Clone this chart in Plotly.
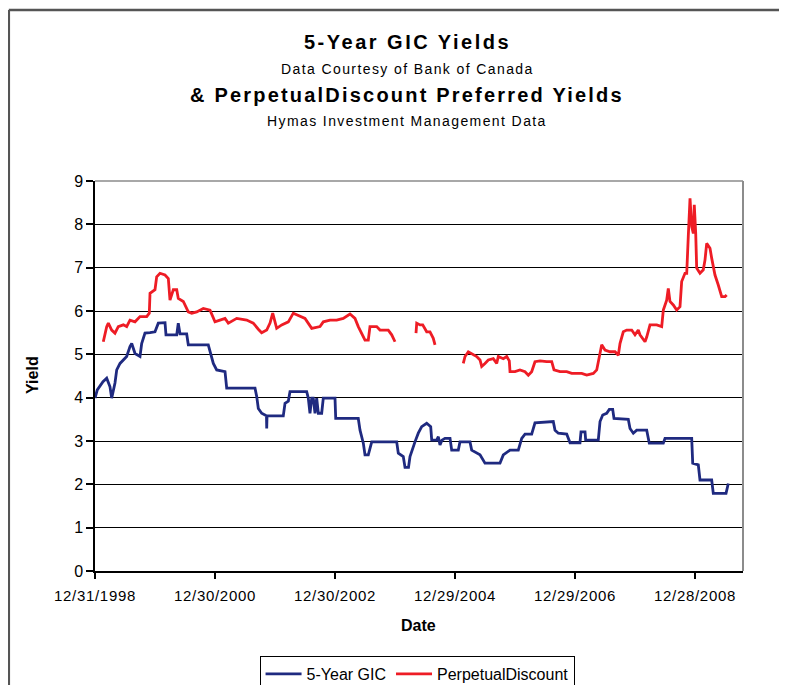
import pandas as pd
import plotly.graph_objects as go

# ---- data (dates as decimal years, values in %) ----
gic_years = [1999.000, 1999.038, 1999.133, 1999.195, 1999.250, 1999.278, 1999.333, 1999.362,
             1999.417, 1999.472, 1999.528, 1999.583, 1999.612, 1999.667, 1999.750, 1999.778,
             1999.833, 1999.917, 2000.000, 2000.055, 2000.167, 2000.183, 2000.362, 2000.388,
             2000.417, 2000.528, 2000.555, 2000.888, 2000.917, 2000.972, 2001.028, 2001.167,
             2001.195, 2001.667, 2001.695, 2001.722, 2001.778, 2001.858, 2001.862, 2001.867,
             2002.138, 2002.167, 2002.222, 2002.250, 2002.528, 2002.555, 2002.583, 2002.612,
             2002.638, 2002.667, 2002.695, 2002.722, 2002.778, 2002.805, 2003.000, 2003.012,
             2003.388, 2003.417, 2003.472, 2003.500, 2003.555, 2003.612, 2004.028, 2004.055,
             2004.138, 2004.167, 2004.225, 2004.250, 2004.333, 2004.388, 2004.445, 2004.528,
             2004.595, 2004.612, 2004.695, 2004.722, 2004.750, 2004.783, 2004.833, 2004.917,
             2004.945, 2005.055, 2005.083, 2005.250, 2005.278, 2005.333, 2005.417, 2005.500,
             2005.750, 2005.805, 2005.917, 2006.055, 2006.112, 2006.167, 2006.278, 2006.333,
             2006.638, 2006.667, 2006.722, 2006.862, 2006.917, 2007.083, 2007.100, 2007.167,
             2007.178, 2007.388, 2007.417, 2007.462, 2007.528, 2007.572, 2007.628, 2007.650,
             2007.888, 2007.917, 2007.972, 2008.028, 2008.195, 2008.238, 2008.472, 2008.500,
             2008.945, 2008.962, 2009.055, 2009.083, 2009.278, 2009.305, 2009.517, 2009.555]
gic_values = [3.99, 4.18, 4.37, 4.45, 4.25, 3.99, 4.34, 4.64,
              4.79, 4.87, 4.95, 5.18, 5.25, 5.02, 4.95, 5.25,
              5.49, 5.50, 5.52, 5.72, 5.73, 5.45, 5.45, 5.72,
              5.47, 5.47, 5.22, 5.22, 5.06, 4.79, 4.64, 4.60,
              4.22, 4.22, 4.03, 3.75, 3.64, 3.58, 3.29, 3.58,
              3.58, 3.87, 3.92, 4.14, 4.14, 3.99, 3.64, 3.99,
              3.99, 3.64, 3.99, 3.64, 3.64, 3.99, 3.99, 3.52,
              3.52, 3.25, 2.95, 2.68, 2.68, 2.98, 2.98, 2.72,
              2.64, 2.39, 2.39, 2.64, 2.98, 3.18, 3.33, 3.41,
              3.33, 3.02, 3.02, 3.10, 2.91, 3.02, 3.06, 3.06,
              2.79, 2.79, 2.98, 2.98, 2.79, 2.75, 2.68, 2.49,
              2.49, 2.68, 2.79, 2.79, 3.06, 3.16, 3.16, 3.42,
              3.45, 3.25, 3.18, 3.16, 2.96, 2.96, 3.21, 3.21,
              3.02, 3.02, 3.45, 3.60, 3.64, 3.73, 3.73, 3.52,
              3.50, 3.29, 3.18, 3.25, 3.25, 2.95, 2.95, 3.06,
              3.06, 2.49, 2.45, 2.10, 2.10, 1.79, 1.79, 2.02]

pd_years = [1999.138, 1999.195, 1999.222, 1999.278, 1999.333, 1999.388, 1999.472, 1999.528,
            1999.583, 1999.667, 1999.750, 1999.862, 1999.905, 1999.917, 2000.000, 2000.028,
            2000.083, 2000.167, 2000.222, 2000.250, 2000.305, 2000.362, 2000.388, 2000.472,
            2000.555, 2000.612, 2000.695, 2000.805, 2000.917, 2001.000, 2001.083, 2001.167,
            2001.222, 2001.362, 2001.528, 2001.638, 2001.722, 2001.778, 2001.862, 2001.917,
            2001.962, 2002.028, 2002.112, 2002.222, 2002.305, 2002.388, 2002.500, 2002.612,
            2002.750, 2002.805, 2002.917, 2003.028, 2003.138, 2003.250, 2003.333, 2003.388,
            2003.445, 2003.500, 2003.555, 2003.583, 2003.695, 2003.750, 2003.888, 2003.945,
            2004.000, 2004.175,
            2004.350, 2004.362, 2004.417, 2004.462, 2004.528, 2004.583, 2004.638, 2004.667,
            2004.900,
            2005.138, 2005.167, 2005.222, 2005.278, 2005.362, 2005.417, 2005.445, 2005.500,
            2005.555, 2005.638, 2005.695, 2005.722, 2005.805, 2005.862, 2005.905, 2005.917,
            2006.000, 2006.083, 2006.167, 2006.222, 2006.278, 2006.333, 2006.417, 2006.528,
            2006.612, 2006.650, 2006.750, 2006.862, 2006.945, 2007.028, 2007.112, 2007.195,
            2007.305, 2007.362, 2007.417, 2007.445, 2007.500, 2007.583, 2007.667, 2007.722,
            2007.750, 2007.805, 2007.862, 2007.945, 2008.000, 2008.055, 2008.083, 2008.167,
            2008.195, 2008.250, 2008.362, 2008.445, 2008.472, 2008.528, 2008.555, 2008.583,
            2008.638, 2008.695, 2008.750, 2008.778, 2008.833, 2008.862, 2008.888, 2008.917,
            2008.945, 2008.972, 2008.988, 2009.012, 2009.028, 2009.083, 2009.138, 2009.167,
            2009.195, 2009.250, 2009.278, 2009.333, 2009.388, 2009.445, 2009.500, 2009.528]
pd_values = [5.29, 5.64, 5.72, 5.56, 5.49, 5.64, 5.68, 5.64,
             5.79, 5.75, 5.87, 5.87, 5.95, 6.41, 6.49, 6.79,
             6.87, 6.83, 6.75, 6.25, 6.49, 6.49, 6.29, 6.22,
             5.98, 5.95, 5.98, 6.06, 6.02, 5.75, 5.79, 5.83,
             5.72, 5.83, 5.79, 5.72, 5.58, 5.50, 5.56, 5.72,
             5.95, 5.60, 5.68, 5.75, 5.95, 5.90, 5.83, 5.60,
             5.64, 5.75, 5.79, 5.79, 5.83, 5.93, 5.83, 5.64,
             5.49, 5.33, 5.33, 5.64, 5.64, 5.56, 5.56, 5.45,
             5.29, None,
             5.49, 5.72, 5.68, 5.68, 5.52, 5.52, 5.37, 5.22,
             None,
             4.79, 4.95, 5.06, 5.02, 4.95, 4.87, 4.72, 4.79,
             4.87, 4.90, 4.79, 4.95, 4.90, 4.95, 4.85, 4.60,
             4.60, 4.64, 4.60, 4.52, 4.60, 4.83, 4.85, 4.83,
             4.83, 4.64, 4.60, 4.60, 4.56, 4.56, 4.56, 4.52,
             4.56, 4.64, 4.98, 5.22, 5.10, 5.06, 5.06, 4.98,
             5.25, 5.52, 5.56, 5.56, 5.45, 5.56, 5.45, 5.29,
             5.40, 5.68, 5.68, 5.64, 6.02, 6.25, 6.52, 6.22,
             6.14, 6.02, 6.10, 6.68, 6.87, 6.87, 7.72, 8.60,
             7.95, 7.79, 8.45, 7.79, 6.99, 6.87, 6.95, 7.18,
             7.56, 7.45, 7.22, 6.83, 6.60, 6.33, 6.33, 6.37]

tick_dates = ["1998-12-31", "2000-12-30", "2002-12-30", "2004-12-29", "2006-12-29", "2008-12-28"]
tick_labels = ["12/31/1998", "12/30/2000", "12/30/2002", "12/29/2004", "12/29/2006", "12/28/2008"]
y_ticks = [0, 1, 2, 3, 4, 5, 6, 7, 8, 9]

BASE = pd.Timestamp("1998-12-31")


def to_dates(years):
    return [BASE + pd.Timedelta(days=(y - 1999.0) * 365.0) for y in years]


def spaced(text, px):
    return f'<span style="letter-spacing:{px}px">{text}</span>'


FONT = "Liberation Sans, Arial, sans-serif"
BLUE = "#1F2A80"
RED = "#EE1C25"

fig = go.Figure()
fig.add_trace(go.Scatter(x=to_dates(gic_years), y=gic_values, mode="lines",
                         name="5-Year GIC", line=dict(color=BLUE, width=2.8)))
fig.add_trace(go.Scatter(x=to_dates(pd_years), y=pd_values, mode="lines",
                         name="PerpetualDiscount", connectgaps=False,
                         line=dict(color=RED, width=2.8)))

x_end = BASE + pd.Timedelta(days=3942)

fig.update_layout(
    width=787, height=700,
    margin=dict(l=87, r=52, t=173, b=137),
    paper_bgcolor="white", plot_bgcolor="white",
    font=dict(family=FONT, color="black", size=15),
    showlegend=True,
    legend=dict(orientation="h", x=0.497, xanchor="center", y=-0.218, yanchor="top",
                bordercolor="black", borderwidth=1, bgcolor="white",
                font=dict(family=FONT, size=16), itemwidth=36, tracegroupgap=0),
    xaxis=dict(type="date", range=[BASE, x_end], tickvals=pd.to_datetime(tick_dates),
               ticktext=[spaced(t, 0.7) for t in tick_labels], showgrid=False, zeroline=False,
               showline=True, linecolor="black", linewidth=1.5,
               ticks="outside", ticklen=6, tickcolor="black", tickwidth=1.5,
               ticklabelstandoff=4,
               tickfont=dict(family=FONT, size=15)),
    yaxis=dict(range=[0, 9], tickvals=y_ticks, showgrid=True, gridcolor="black",
               gridwidth=1.3, zeroline=False, showline=True, linecolor="black",
               linewidth=1.5, ticks="outside", ticklen=7, tickcolor="black", tickwidth=1.5,
               tickfont=dict(family=FONT, size=16)),
)

# plot-area border (top & right gray)
fig.add_shape(type="line", xref="paper", yref="paper", x0=0, x1=1, y0=1, y1=1,
              line=dict(color="#A8A8A8", width=2), layer="above")
fig.add_shape(type="line", xref="paper", yref="paper", x0=1, x1=1, y0=0, y1=1,
              line=dict(color="#8C8C8C", width=2), layer="above")
# outer chart frame (only top and left edges are inside the picture)
fig.add_shape(type="line", xref="paper", yref="paper", x0=-0.1330, x1=1.2,
              y0=1.4385, y1=1.4385, line=dict(color="#555555", width=2.5))
fig.add_shape(type="line", xref="paper", yref="paper", x0=-0.1330, x1=-0.1330,
              y0=-0.45, y1=1.4385, line=dict(color="#555555", width=2.5))

titles = [
    ("5-Year GIC Yields", 1.356, 20, True, 2.5),
    ("Data Courtesy of Bank of Canada", 1.287, 14, False, 1.4),
    ("& PerpetualDiscount Preferred Yields", 1.2205, 20, True, 2.2),
    ("Hymas Investment Management Data", 1.154, 14, False, 1.4),
]
for text, y, size, bold, ls in titles:
    t = spaced(text, ls)
    fig.add_annotation(text=f"<b>{t}</b>" if bold else t, xref="paper", yref="paper",
                       x=0.4815, y=y, xanchor="center", yanchor="middle", showarrow=False,
                       font=dict(family=FONT, size=size, color="black"))

fig.add_annotation(text="<b>Date</b>", xref="paper", yref="paper", x=0.4985, y=-0.141,
                   xanchor="center", yanchor="middle", showarrow=False,
                   font=dict(family=FONT, size=16, color="black"))
fig.add_annotation(text="<b>Yield</b>", xref="paper", yref="paper", x=-0.0957, y=0.5026,
                   xanchor="center", yanchor="middle", showarrow=False, textangle=-90,
                   font=dict(family=FONT, size=16, color="black"))

# the chart is cropped by the window like the reference picture; hide page scrollbars
fig.write_html("out.html", post_script="document.body.style.overflow='hidden';")
